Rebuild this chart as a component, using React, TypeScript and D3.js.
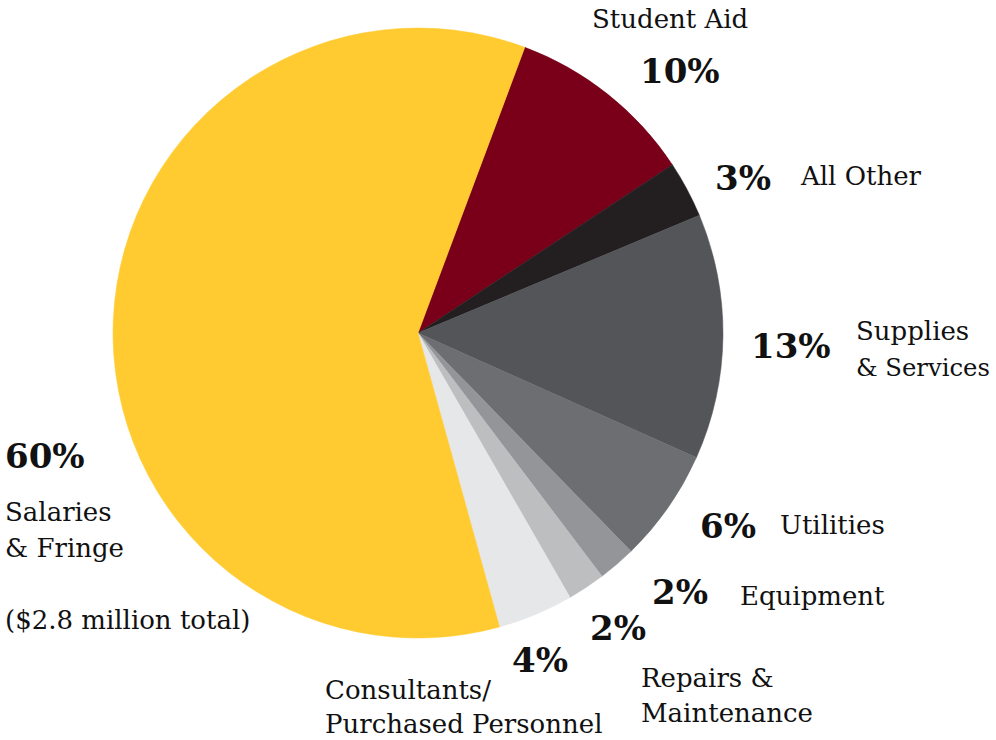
import { useEffect, useRef } from 'react';
import * as d3 from 'd3';

// slice order, clockwise from the Student Aid edge
const categories = [
  'Student Aid',
  'All Other',
  'Supplies & Services',
  'Utilities',
  'Equipment',
  'Repairs & Maintenance',
  'Consultants/Purchased Personnel',
  'Salaries & Fringe',
];
const shares = [10, 3, 13, 6, 2, 2, 4, 60];
const colors = ['#7a0019', '#231f20', '#545558', '#6d6e71', '#939598', '#bcbec0', '#e6e7e8', '#ffcb31'];

// label text: percent + name lines
const pctLabels = ['10%', '3%', '13%', '6%', '2%', '2%', '4%', '60%'];
const nameLines = [
  ['Student Aid'],
  ['All Other'],
  ['Supplies', '& Services'],
  ['Utilities'],
  ['Equipment'],
  ['Repairs &', 'Maintenance'],
  ['Consultants/', 'Purchased Personnel'],
  ['Salaries', '& Fringe', '', '($2.8 million total)'],
];

// where each label sits (percent x,y and name x,y, line step)
const labelPos = [
  { px: 640, py: 83, nx: 592, ny: 28, step: 36 },
  { px: 715, py: 190, nx: 801, ny: 185, step: 36 },
  { px: 751, py: 358, nx: 856, ny: 340, step: 36 },
  { px: 700, py: 538, nx: 780, ny: 534, step: 36 },
  { px: 652, py: 604, nx: 740, ny: 605, step: 36 },
  { px: 590, py: 640, nx: 641, ny: 687, step: 35 },
  { px: 512, py: 672, nx: 325, ny: 699, step: 34 },
  { px: 5, py: 468, nx: 5, ny: 521, step: 36 },
];

const width = 996;
const height = 740;
const cx = 418;
const cy = 333;
const radius = 305;
const font = '"DejaVu Serif", "Liberation Serif", serif';

export default function App() {
  const svgRef = useRef<SVGSVGElement>(null);

  useEffect(() => {
    if (!svgRef.current) return;
    const svg = d3.select(svgRef.current);
    svg.selectAll('*').remove();

    const start = (20.5 * Math.PI) / 180;
    const pie = d3
      .pie<number>()
      .sort(null)
      .value((d) => d)
      .startAngle(start)
      .endAngle(start + Math.PI * 2);
    const arc = d3.arc<d3.PieArcDatum<number>>().innerRadius(0).outerRadius(radius);

    const g = svg.append('g').attr('transform', `translate(${cx},${cy})`);
    g.selectAll('path')
      .data(pie(shares))
      .enter()
      .append('path')
      .attr('d', arc)
      .attr('fill', (_, i) => colors[i])
      .attr('stroke', (_, i) => colors[i])
      .attr('stroke-width', 0.5);

    // ── Labels ──
    categories.forEach((_, i) => {
      const p = labelPos[i];
      svg
        .append('text')
        .attr('x', p.px)
        .attr('y', p.py)
        .attr('font-family', font)
        .attr('font-weight', 700)
        .attr('font-size', 34)
        .attr('fill', '#111')
        .text(pctLabels[i]);

      nameLines[i].forEach((line, j) => {
        if (!line) return;
        const t = svg
          .append('text')
          .attr('x', p.nx)
          .attr('y', p.ny + j * p.step)
          .attr('font-family', font)
          .attr('font-size', 26)
          .attr('fill', '#111')
          .text(line);
        // shrink lines that would run past the right edge
        const room = width - p.nx - 6;
        const len = (t.node() as SVGTextElement).getComputedTextLength();
        if (len > room) t.attr('font-size', Math.floor((26 * room) / len * 10) / 10);
      });
    });
  }, []);

  return (
    <svg
      ref={svgRef}
      width={width}
      height={height}
      style={{ position: 'absolute', left: 0, top: 0, background: '#fff' }}
    />
  );
}
